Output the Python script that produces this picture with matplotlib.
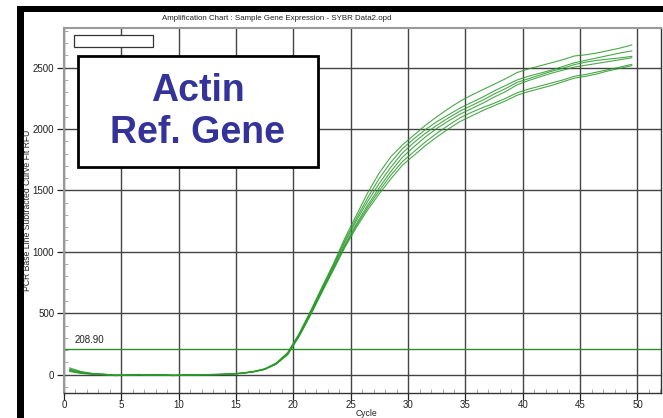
import numpy as np
import matplotlib
matplotlib.use("Agg")
import matplotlib.pyplot as plt
from matplotlib.patches import Rectangle
from matplotlib.ticker import MultipleLocator

plt.rcParams['font.family'] = ['Liberation Sans', 'DejaVu Sans']

cycles = np.arange(0.5, 50, 1.0)

curve_a = [55, 25, 10, 4, -4, -1, 2, -2, 0, -4, -2, 0, 1, 3, 6, 14, 26, 48, 95, 180,
           335, 520, 715, 905, 1115, 1300, 1485, 1645, 1775, 1870, 1950, 2030, 2100, 2165, 2225,
           2275, 2320, 2365, 2410, 2460, 2490, 2515, 2540, 2565, 2595, 2605, 2620, 2640, 2660, 2685]
curve_b = [40, 18, 6, 2, -6, -3, 0, -4, -3, -6, -3, -1, 0, 2, 5, 12, 25, 46, 92, 175,
           330, 512, 705, 895, 1095, 1275, 1445, 1600, 1730, 1840, 1920, 1995, 2060, 2115, 2170,
           2215, 2260, 2310, 2355, 2400, 2430, 2455, 2480, 2510, 2540, 2560, 2580, 2600, 2620, 2636]
curve_c = [30, 12, 4, 0, -8, -4, -2, -5, -2, -8, -4, -2, -1, 1, 4, 11, 24, 45, 90, 172,
           325, 505, 695, 885, 1080, 1255, 1415, 1560, 1690, 1805, 1890, 1965, 2030, 2090, 2145,
           2190, 2235, 2285, 2330, 2380, 2410, 2440, 2470, 2495, 2525, 2545, 2560, 2570, 2580, 2592]
curve_d = [45, 20, 8, 3, -3, -2, 1, -3, -1, -5, -3, -1, 1, 2, 5, 12, 23, 44, 88, 168,
           318, 495, 685, 870, 1060, 1230, 1385, 1525, 1655, 1770, 1855, 1935, 2005, 2065, 2120,
           2165, 2210, 2260, 2305, 2360, 2395, 2425, 2455, 2480, 2505, 2520, 2535, 2550, 2565, 2581]
curve_e = [25, 10, 3, -1, -7, -5, -1, -4, -3, -7, -5, -2, 0, 1, 3, 10, 22, 43, 87, 165,
           315, 490, 678, 862, 1048, 1215, 1365, 1500, 1625, 1735, 1815, 1895, 1965, 2030, 2090,
           2135, 2175, 2210, 2250, 2295, 2325, 2350, 2375, 2400, 2430, 2445, 2465, 2485, 2505, 2527]
curve_f = [35, 15, 5, 1, -6, -3, 0, -2, -2, -6, -4, -3, -1, 1, 4, 11, 22, 42, 85, 162,
           310, 485, 672, 855, 1038, 1200, 1345, 1475, 1595, 1705, 1785, 1865, 1935, 2000, 2060,
           2105, 2150, 2190, 2230, 2275, 2305, 2330, 2355, 2385, 2415, 2430, 2450, 2475, 2495, 2516]
curves = [curve_a, curve_b, curve_c, curve_d, curve_e, curve_f]

threshold = 208.90
x_ticks = [0, 5, 10, 15, 20, 25, 30, 35, 40, 45, 50]
y_ticks = [0, 500, 1000, 1500, 2000, 2500]

W, H = 663, 418
fig = plt.figure(figsize=(W / 100, H / 100), dpi=100)
fig.patch.set_facecolor('white')

def fx(px):
    return px / W

def fy(py):
    return 1 - py / H

# black frame (left and top bars)
fig.add_artist(Rectangle((fx(17), 0), fx(24) - fx(17), fy(6), transform=fig.transFigure,
                         facecolor='black', edgecolor='none', zorder=0))
fig.add_artist(Rectangle((fx(17), fy(12)), 1 - fx(17), fy(6) - fy(12), transform=fig.transFigure,
                         facecolor='black', edgecolor='none', zorder=0))

ax = fig.add_axes([fx(64), fy(392.7), fx(661) - fx(64), fy(28) - fy(392.7)])
ax.set_xlim(0, 52.05)
ax.set_ylim(-147, 2823)

ax.set_xticks(x_ticks)
ax.set_yticks(y_ticks)
ax.xaxis.set_minor_locator(MultipleLocator(1))
ax.yaxis.set_minor_locator(MultipleLocator(100))
ax.tick_params(axis='both', which='major', direction='out', length=5, width=0.9,
               color='#222222', labelsize=7, labelcolor='#222222', pad=2)
ax.tick_params(axis='x', which='major', pad=0.5)
ax.tick_params(axis='both', which='minor', direction='in', length=3, width=0.7, color='#aaaaaa')

for s in ['top', 'left']:
    ax.spines[s].set_color('#999999')
    ax.spines[s].set_linewidth(1.5)
for s in ['bottom', 'right']:
    ax.spines[s].set_color('#333333')
    ax.spines[s].set_linewidth(1.0)

ax.grid(True, which='major', color='#444444', linewidth=1.0, zorder=1)
ax.set_axisbelow(True)

for c in curves:
    ax.plot(cycles, c, color='#2a9a2a', linewidth=0.8, alpha=0.85, zorder=3)

ax.axhline(threshold, color='#2e8b2e', linewidth=1.0, zorder=2)
ax.text(0.9, threshold + 30, f"{threshold:.2f}", fontsize=7, color='#222222',
        ha='left', va='bottom', zorder=4)

# x label, title and y label in figure coords
fig.text(fx(366), fy(417.5), 'Cycle', fontsize=6.2, color='#222222', ha='center', va='bottom')
fig.text(fx(277), fy(18), 'Amplification Chart : Sample Gene Expression - SYBR Data2.opd',
         fontsize=5.7, color='#222222', ha='center', va='center')
fig.text(fx(28), fy(210), 'PCR Base Line Subtracted Curve Fit RFU', fontsize=6.2,
         color='#222222', rotation=90, ha='center', va='center')

# small empty legend-like rectangle
fig.add_artist(Rectangle((fx(74), fy(47)), fx(153) - fx(74), fy(35) - fy(47),
                         transform=fig.transFigure, facecolor='white', edgecolor='#333333',
                         linewidth=0.9, zorder=5))

# annotation box
fig.add_artist(Rectangle((fx(78), fy(167)), fx(318) - fx(78), fy(56) - fy(167),
                         transform=fig.transFigure, facecolor='white', edgecolor='black',
                         linewidth=2.0, zorder=5))
fig.text(fx(198), fy(91), 'Actin', fontsize=27, fontweight='bold', color='#333399',
         ha='center', va='center', zorder=6)
fig.text(fx(198), fy(133), 'Ref. Gene', fontsize=27, fontweight='bold', color='#333399',
         ha='center', va='center', zorder=6)

fig.savefig('out.png', dpi=100, facecolor='white')
